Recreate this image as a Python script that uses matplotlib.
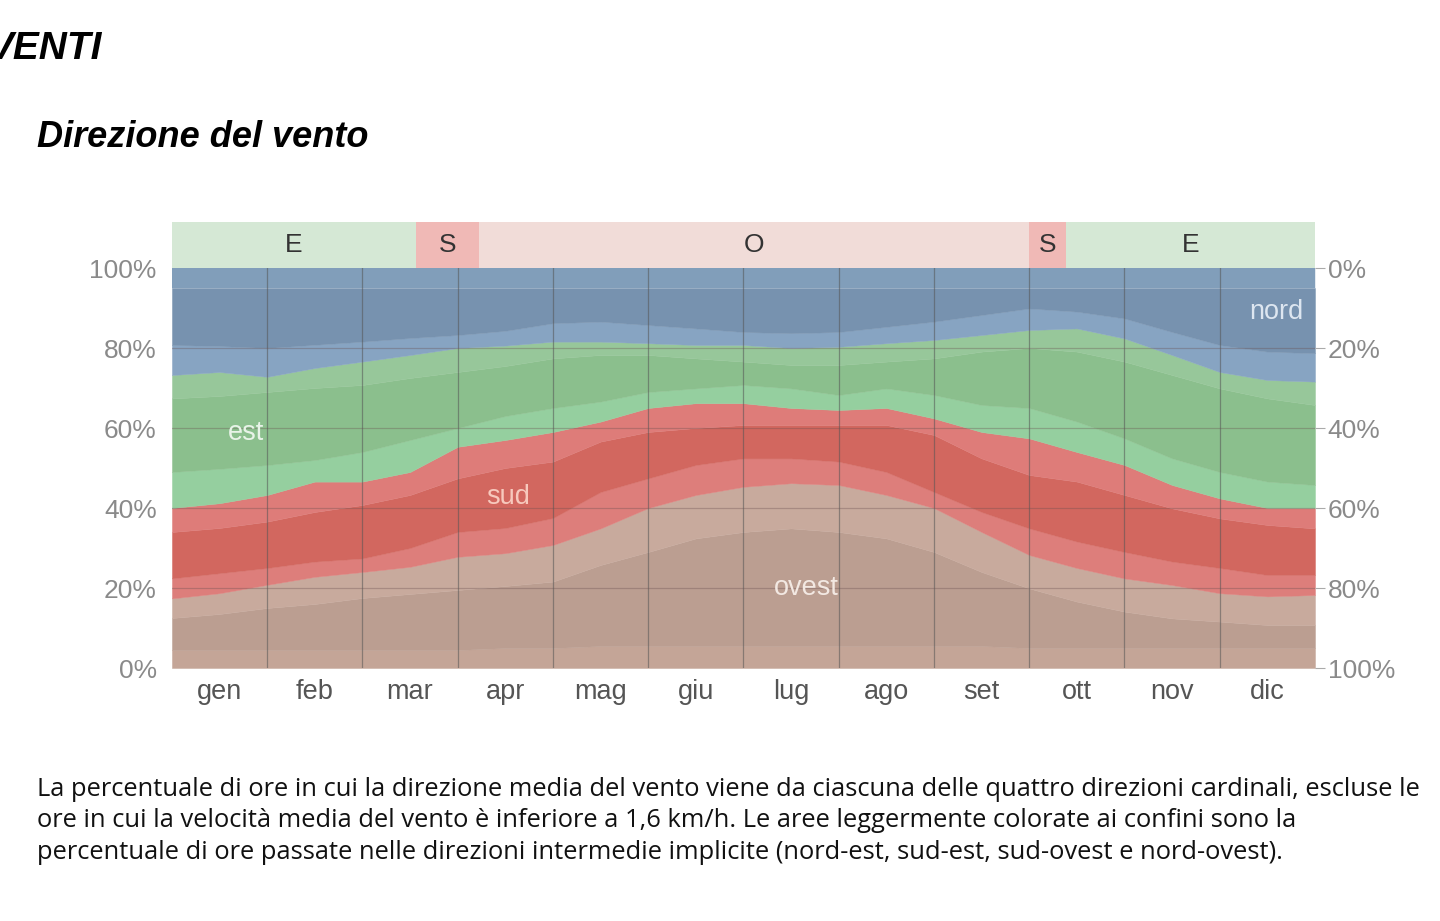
import numpy as np
import matplotlib.pyplot as plt

# letture dal grafico ogni mezzo mese (0 = 1 gen, 12 = 31 dic), in % di ore
# ogni lista e' il limite superiore di una fascia, dal basso verso l'alto
tempo = [0, 0.5, 1, 1.5, 2, 2.5, 3, 3.5, 4, 4.5, 5, 5.5, 6,
         6.5, 7, 7.5, 8, 8.5, 9, 9.5, 10, 10.5, 11, 11.5, 12]
mesi = ["gen", "feb", "mar", "apr", "mag", "giu", "lug", "ago", "set", "ott", "nov", "dic"]

lim_ovest_nw = [4.5, 4.5, 4.5, 4.5, 4.5, 4.5, 4.5, 5, 5, 5.5, 5.5, 5.5, 5.5,
                5.5, 5.5, 5.5, 5.5, 5.5, 5, 5, 5, 5, 5, 5, 5]
lim_ovest = [12.5, 13.5, 15, 16, 17.5, 18.5, 19.5, 20.5, 21.6, 25.75, 29, 32.4, 34,
             34.9, 34, 32.4, 29, 24, 19.9, 16.6, 14.1, 12.4, 11.6, 10.75, 10.75]
lim_ovest_sw = [17.4, 18.7, 20.8, 22.8, 24, 25.3, 27.8, 28.7, 30.75, 34.9, 40, 43.25, 45.3,
                46.2, 45.75, 43.25, 40, 34, 28.25, 25, 22.4, 20.75, 18.7, 17.9, 18.25]
lim_sud_sw = [22.4, 23.7, 25, 26.6, 27.4, 30, 34, 35, 37.5, 44, 47.4, 50.75, 52.4,
              52.4, 51.6, 49, 44, 39, 34.9, 31.6, 29, 26.6, 25, 23.25, 23.25]
lim_sud = [34, 35, 36.6, 39, 40.75, 43.25, 47.4, 50, 51.6, 56.6, 59, 60, 60.75,
           60.75, 60.75, 60.75, 58.25, 52.4, 48.25, 46.6, 43.25, 39.9, 37.4, 35.75, 34.9]
lim_sud_se = [40, 41.2, 43.25, 46.6, 46.6, 49, 55.3, 57, 59, 61.6, 65, 66.2, 66.2,
              65, 64.5, 65, 62.4, 59, 57.4, 54, 50.75, 45.75, 42.4, 40, 40]
lim_est_se = [49, 49.8, 50.75, 52, 54, 57, 60, 63, 65, 66.6, 69, 69.9, 70.75,
              69.9, 68.25, 69.9, 68.25, 65.75, 65, 61.6, 57.4, 52.4, 49, 46.6, 45.75]
lim_est = [67.4, 68, 69, 70, 70.75, 72.5, 74, 75.5, 77.4, 78.25, 78.25, 77.4, 76.6,
           75.75, 75.75, 76.6, 77.4, 79.1, 80, 79.1, 76.6, 73.25, 69.9, 67.4, 65.75]
lim_est_ne = [73.25, 74, 72.8, 75, 76.6, 78.25, 80, 80.6, 81.6, 81.6, 81.2, 80.75, 80.75,
              80, 80.3, 81.2, 82, 83.25, 84.5, 84.9, 82.4, 78.25, 74, 72, 71.6]
lim_nord_ne = [80.75, 80.5, 80, 80.8, 81.6, 82.5, 83.25, 84.3, 86.2, 86.6, 85.75, 84.9, 84,
               83.7, 84, 85.3, 86.6, 88.25, 89.9, 89.1, 87.4, 84, 80.75, 79.1, 78.7]
lim_nord = [95] * 25
lim_nord_nw = [100] * 25

# direzione prevalente (fascia in alto)
fasce_inizio = [0, 2.56, 3.22, 9.0, 9.39]
fasce_fine = [2.56, 3.22, 9.0, 9.39, 12]
fasce_lettera = ["E", "S", "O", "S", "E"]

limiti = [lim_ovest_nw, lim_ovest, lim_ovest_sw, lim_sud_sw, lim_sud, lim_sud_se,
          lim_est_se, lim_est, lim_est_ne, lim_nord_ne, lim_nord, lim_nord_nw]
colori = ["#c4a597", "#bb9e91", "#c8aa9d",
          "#dd7e7b", "#d2675f", "#de7c79",
          "#95cf9f", "#8bbf8d", "#97c79a",
          "#87a4c2", "#7792af", "#819eba"]
colori_fasce = {"E": "#d5e8d5", "S": "#f0b9b6", "O": "#f1dcd8"}

fig = plt.figure(figsize=(14.4, 9.21), dpi=100)

ax = fig.add_axes([0.1194, 0.2747, 0.7938, 0.4343])
sotto = [0] * 25
for lim, c in zip(limiti, colori):
    ax.fill_between(tempo, sotto, lim, color=c, lw=0.3, edgecolor=c)
    sotto = lim
ax.set_xlim(0, 12)
ax.set_ylim(0, 100)

for g in range(1, 12):
    ax.axvline(g, color="#555555", lw=0.9, alpha=0.55)
for p in [20, 40, 60, 80]:
    ax.axhline(p, color="#6a5050", lw=0.9, alpha=0.35)

for s in ax.spines.values():
    s.set_visible(False)

fnt = "Liberation Sans"
perc = [0, 20, 40, 60, 80, 100]
ax.set_yticks(perc)
ax.set_yticklabels([f"{v}%" for v in perc], fontsize=19, color="#8a8a8a", family=fnt)
ax.tick_params(axis="y", length=0, pad=11)
ax.set_xticks([m + 0.5 for m in range(12)])
ax.set_xticklabels(mesi, fontsize=19.5, color="#555555", family=fnt)
ax.tick_params(axis="x", length=0, pad=8)

ax2 = ax.twinx()
ax2.set_ylim(100, 0)
ax2.set_yticks(perc)
ax2.set_yticklabels([f"{v}%" for v in perc], fontsize=19, color="#8a8a8a", family=fnt)
ax2.tick_params(axis="y", length=7, color="#aaaaaa", pad=2)
for s in ax2.spines.values():
    s.set_visible(False)

# etichette dentro il grafico
ax.text(0.78, 58.75, "est", color="#e8f3e8", fontsize=19.5, family=fnt, ha="center", va="center")
ax.text(3.53, 42.75, "sud", color="#f7c9bd", fontsize=19.5, family=fnt, ha="center", va="center")
ax.text(6.66, 20, "ovest", color="#f2e8e2", fontsize=19.5, family=fnt, ha="center", va="center")
ax.text(11.59, 89, "nord", color="#dde6f0", fontsize=19.5, family=fnt, ha="center", va="center")

# fascia superiore
axh = fig.add_axes([0.1194, 0.709, 0.7938, 0.0500])
for a, b, l in zip(fasce_inizio, fasce_fine, fasce_lettera):
    axh.axvspan(a, b, color=colori_fasce[l], lw=0)
    axh.text((a + b) / 2, 0.5, l, ha="center", va="center", fontsize=19,
             color="#333333", family=fnt)
axh.set_xlim(0, 12)
axh.set_ylim(0, 1)
axh.axis("off")

# titoli
fig.text(-0.0085, 0.947, "VENTI", fontsize=28, fontweight="bold", style="italic",
         family=fnt, va="center", ha="left")
fig.text(0.026, 0.851, "Direzione del vento", fontsize=26, fontweight="bold",
         style="italic", family=fnt, va="center", ha="left")

righe = ["La percentuale di ore in cui la direzione media del vento viene da ciascuna delle quattro direzioni cardinali, escluse le",
         "ore in cui la velocità media del vento è inferiore a 1,6 km/h. Le aree leggermente colorate ai confini sono la",
         "percentuale di ore passate nelle direzioni intermedie implicite (nord-est, sud-est, sud-ovest e nord-ovest)."]
for r, yy in zip(righe, [0.1357, 0.1021, 0.0673]):
    fig.text(0.026, yy, r, fontsize=18.4, family="Open Sans", va="baseline",
             ha="left", color="#111111")

fig.savefig("out.png", dpi=100)
